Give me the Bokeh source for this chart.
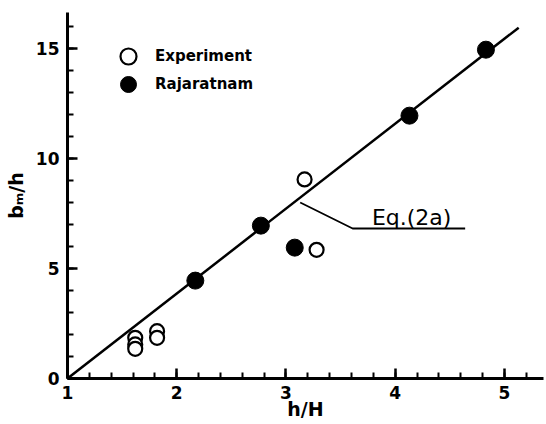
from bokeh.plotting import figure
from bokeh.models import Range1d, FixedTicker, Legend, LegendItem, Label
from bokeh.embed import file_html
from bokeh.resources import INLINE

# Data
exp_x = [1.62, 1.62, 1.62, 1.82, 1.82, 3.17, 3.28]
exp_y = [1.85, 1.55, 1.35, 2.15, 1.85, 9.05, 5.85]
raj_x = [2.17, 2.77, 3.08, 4.13, 4.83]
raj_y = [4.45, 6.95, 5.95, 11.95, 14.95]
eq_x = [1.0, 5.13]
eq_y = [0.0, 15.95]
leader_x = [3.13, 3.61, 4.64]
leader_y = [8.0, 6.82, 6.82]
x_ticks = [1, 2, 3, 4, 5]
y_ticks = [0, 5, 10, 15]

FONT = "DejaVu Sans"

p = figure(width=544, height=424, x_range=Range1d(1, 5.357), y_range=Range1d(0, 16.64),
           output_backend="svg", toolbar_location=None,
           min_border_left=67, min_border_right=1, min_border_top=12, min_border_bottom=46)
p.outline_line_color = None
p.grid.visible = False
p.background_fill_color = "white"

p.line(eq_x, eq_y, line_color="black", line_width=2.5)
p.line(leader_x, leader_y, line_color="black", line_width=1.8)

r_exp = p.scatter(exp_x, exp_y, size=14, marker="circle", fill_color="white",
                  line_color="black", line_width=2.2)
r_raj = p.scatter(raj_x, raj_y, size=17, marker="circle", fill_color="black",
                  line_color="black", line_width=1)

legend_style = dict(glyph_width=40, glyph_height=40, padding=0, margin=0,
                    label_standoff=7, border_line_alpha=0, background_fill_alpha=0,
                    label_text_font=FONT, label_text_font_size="15px",
                    label_text_font_style="bold", label_text_color="black")
p.add_layout(Legend(items=[LegendItem(label="Experiment", renderers=[r_exp])],
                    location=(41, 302), **legend_style))
p.add_layout(Legend(items=[LegendItem(label="Rajaratnam", renderers=[r_raj])],
                    location=(41, 274), **legend_style))

p.add_layout(Label(x=4.15, y=7.3, text="Eq.(2a)", text_align="center",
                   text_baseline="alphabetic", text_font=FONT, text_font_size="22px",
                   text_color="black"))

for ax in (p.xaxis[0], p.yaxis[0]):
    ax.axis_line_width = 3
    ax.axis_line_color = "black"
    ax.major_tick_line_width = 2.5
    ax.minor_tick_line_width = 2
    ax.major_tick_in = 10
    ax.major_tick_out = 0
    ax.minor_tick_in = 6
    ax.minor_tick_out = 0
    ax.major_label_text_font = FONT
    ax.major_label_text_font_size = "17px"
    ax.major_label_text_font_style = "bold"
    ax.major_label_text_color = "black"
    ax.major_label_standoff = 8
    ax.axis_label_text_font = FONT
    ax.axis_label_text_font_size = "19px"
    ax.axis_label_text_font_style = "bold"
    ax.axis_label_text_color = "black"

p.xaxis.ticker = FixedTicker(ticks=x_ticks, minor_ticks=[1 + 0.2 * i for i in range(22)])
p.yaxis.ticker = FixedTicker(ticks=y_ticks, minor_ticks=list(range(0, 17)))

p.xaxis.axis_label = "h/H"
p.xaxis.axis_label_standoff = -4
p.xaxis.major_label_standoff = 7
p.yaxis.axis_label = "bₘ/h"
p.yaxis.axis_label_standoff = 6

open("out.html", "w").write(file_html(p, INLINE))
